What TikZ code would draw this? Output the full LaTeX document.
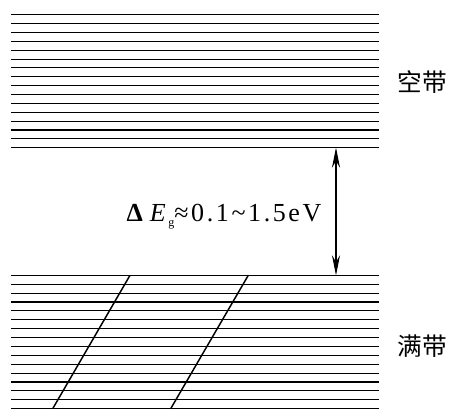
\documentclass[tikz,border=0pt]{standalone}
\usepackage{fontspec}
\setmainfont{Liberation Serif}
\newfontfamily\cjk{Noto Sans CJK SC}
\newfontfamily\lblfont{Liberation Serif}[LetterSpace=10]
\usetikzlibrary{arrows.meta}
\begin{document}
\begin{tikzpicture}[x=0.75pt,y=-0.75pt,
  level/.style={line width=0.8pt},
  slant/.style={line width=1.1pt},
  gaparrow/.style={line width=0.8pt,{Stealth[length=15pt,width=6pt]}-{Stealth[length=15pt,width=6pt]}},
  bandlabel/.style={font=\cjk\fontsize{18.5}{20}\selectfont,inner sep=0pt},
  gaplabel/.style={font=\lblfont\fontsize{19.5}{22}\selectfont,inner sep=0pt}]
\useasboundingbox (0,0) rectangle (458,418);
\foreach \i in {0,...,15} {
  \draw[level] (11,{14.7+\i*8.867}) -- (379,{14.7+\i*8.867});
}
\foreach \i in {0,...,15} {
  \draw[level] (11,{275.3+\i*8.893}) -- (379,{275.3+\i*8.893});
}
\draw[slant] (130,275.3) -- (52.7,408.7);
\draw[slant] (248.3,275.3) -- (170.7,408.7);
\coordinate (gaptop) at (336,147.7);
\coordinate (gapbot) at (336,275.3);
\draw[gaparrow] (gaptop) -- (gapbot);
\node[gaplabel,anchor=base] (gap) at (224,221) {\textbf{Δ}\,\textit{E}\raisebox{-0.5ex}{\fontsize{9}{10}\selectfont g}≈0.1\char"7E 1.5eV};
\node[bandlabel] (empty) at (422,82) {空带};
\node[bandlabel] (full) at (422,346) {满带};
\end{tikzpicture}
\end{document}
